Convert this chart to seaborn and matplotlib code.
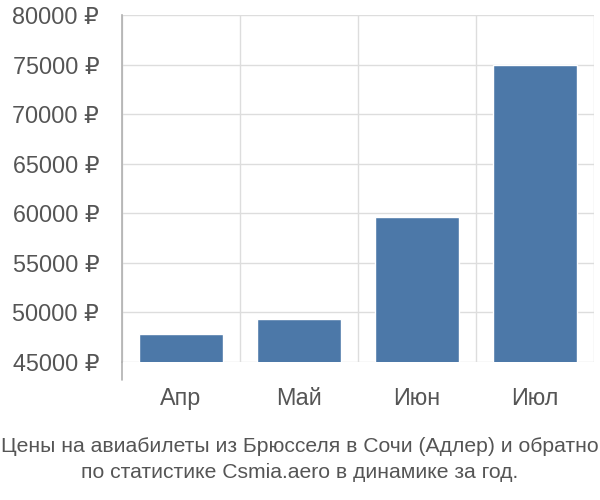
import matplotlib
matplotlib.use("Agg")
import matplotlib.pyplot as plt
import seaborn as sns
import pandas as pd

months = ["Апр", "Май", "Июн", "Июл"]
prices = [47800, 49300, 59600, 75000]
yticks = [45000, 50000, 55000, 60000, 65000, 70000, 75000, 80000]
title_lines = ["Цены на авиабилеты из Брюсселя в Сочи (Адлер) и обратно",
               "по статистике Csmia.aero в динамике за год."]

sns.set_style("white")
plt.rcParams['font.family'] = ['Liberation Sans', 'DejaVu Sans']

df = pd.DataFrame({"month": months, "price": prices})

fig = plt.figure(figsize=(6, 5), dpi=100)
ax = fig.add_axes([122/600, 1 - 362/500, (594 - 122)/600, (362 - 15)/500])

sns.barplot(data=df, x="month", y="price", color="#4c78a8", saturation=1,
            width=0.72, ax=ax, zorder=3)

ax.set_xlim(-0.5, len(months) - 0.5)
ax.set_ylim(yticks[0], yticks[-1])
ax.set_yticks(yticks)
ax.set_yticklabels([f"{v} ₽" for v in yticks])
ax.set_xlabel("")
ax.set_ylabel("")

grid_c = "#dddddd"
text_c = "#555555"
ax.yaxis.grid(True, color=grid_c, linewidth=1, zorder=0)
ax.set_xticks([i + 0.5 for i in range(-1, len(months))], minor=True)
ax.xaxis.grid(True, which="minor", color=grid_c, linewidth=1, zorder=0)
ax.set_axisbelow(True)

ax.tick_params(axis="y", length=14.4, color=grid_c, width=1, pad=2,
               labelsize=16.8, labelcolor=text_c)
ax.tick_params(axis="x", which="major", length=0, pad=18,
               labelsize=16.8, labelcolor=text_c)
ax.tick_params(axis="x", which="minor", length=13, color=grid_c, width=1)

for s in ["top", "right", "bottom"]:
    ax.spines[s].set_visible(False)
ax.spines["left"].set_color("#b0b0b0")
ax.spines["left"].set_linewidth(1.2)
ax.plot([-0.5, -0.5], [0, -18/347], transform=ax.get_xaxis_transform(),
        clip_on=False, color="#b0b0b0", linewidth=1.2)

for i, line in enumerate(title_lines):
    fig.text(0.5, 1 - (447 + 25 * i)/500, line, ha="center", va="center",
             fontsize=15.2, color=text_c)

fig.savefig("out.png", dpi=100)
